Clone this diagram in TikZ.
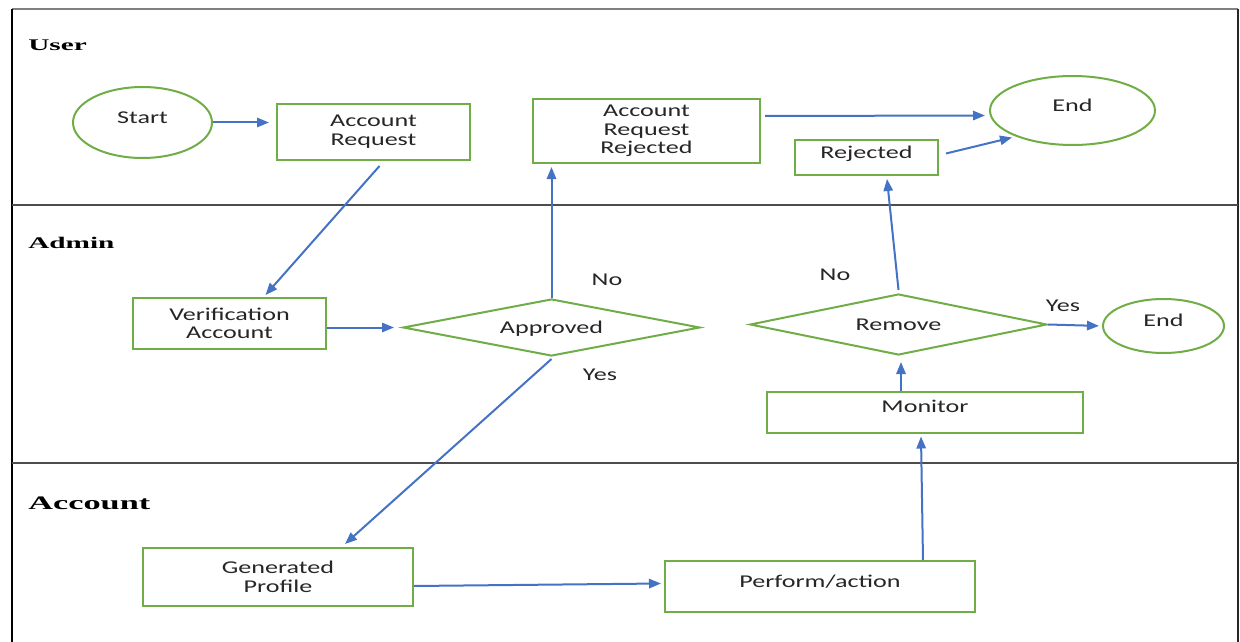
\documentclass[tikz,border=0pt]{standalone}
\usepackage{fontspec}
\setmainfont{Carlito}[FakeStretch=1.45]
\newfontfamily\lanefont{Liberation Serif}[FakeStretch=1.8]
\usetikzlibrary{shapes.geometric,arrows.meta}
\def\PX{0.75pt}
\definecolor{og}{HTML}{70AD47}
\definecolor{ob}{HTML}{4472C4}
\definecolor{tx}{HTML}{262626}
\newcommand\mainfnt{\fontsize{13.5}{14}\selectfont}
\tikzset{
  shp/.style={draw=og, line width=1.5pt, fill=white, inner sep=0pt, align=center, font=\mainfnt, text=tx},
  box/.style={shp, rectangle},
  oval/.style={shp, ellipse},
  dia/.style={shp, diamond, text height=8.7pt, text depth=0pt},
  one/.style={text height=8.7pt, text depth=7.5pt},
  arr/.style={draw=ob, line width=1.5pt, -{Triangle[length=9pt,width=7pt]}},
  lbl/.style={font=\mainfnt, text=tx, text height=8.7pt, text depth=0pt, inner sep=0pt},
  lane/.style={font=\lanefont\bfseries, text=black, anchor=base west, inner sep=0pt}
}
\begin{document}
\begin{tikzpicture}[x=0.75pt,y=-0.75pt]
\useasboundingbox (0,0) rectangle (1240,642);
% frame and lanes
\draw[line width=1.1pt, draw=black!50] (12,9) -- (1238,9);
\draw[line width=1.4pt, black] (12,9) -- (12,642);
\draw[line width=1.4pt, black!85] (1238,9) -- (1238,642);
\draw[line width=0.9pt, black!70] (12,205) -- (1238,205);
\draw[line width=0.9pt, black!70] (12,463) -- (1238,463);
% lane labels
\node[lane, font=\lanefont\bfseries\fontsize{12.2}{13}\selectfont] (luser) at (28,51) {User};
\node[lane, font=\lanefont\bfseries\fontsize{12.2}{13}\selectfont] (ladmin) at (28,248) {Admin};
\node[lane, font=\lanefont\bfseries\fontsize{14.3}{15}\selectfont] (lacc) at (28,509) {Account};
% nodes
\node[oval, one, minimum width=139*\PX, minimum height=71*\PX] (start) at (142.5,122.5) {Start};
\node[box, minimum width=193*\PX, minimum height=56*\PX] (ar) at (373.5,132) {Account\\Request};
\node[box, minimum width=227*\PX, minimum height=64*\PX] (arr) at (646.5,131) {Account\\Request\\Rejected};
\node[oval, one, minimum width=165*\PX, minimum height=69*\PX] (end1) at (1072.5,110.5) {End};
\node[box, one, minimum width=143*\PX, minimum height=35*\PX] (rej) at (866.5,157.5) {Rejected};
\node[box, minimum width=193*\PX, minimum height=51*\PX] (va) at (229.5,323.5) {Verification\\Account};
\node[dia, aspect=5.2, minimum width=297*\PX, minimum height=57*\PX] (ap) at (551.5,327.5) {Approved};
\node[dia, aspect=4.87, minimum width=297*\PX, minimum height=61*\PX] (rm) at (898.5,324.5) {Remove};
\node[oval, one, minimum width=121*\PX, minimum height=54*\PX] (end2) at (1163.5,326) {End};
\node[box, one, minimum width=316*\PX, minimum height=41*\PX] (mo) at (925,412) {Monitor};
\node[box, minimum width=270*\PX, minimum height=58*\PX] (gp) at (278,577) {Generated\\Profile};
\node[box, one, minimum width=310*\PX, minimum height=51*\PX] (pa) at (820,586.5) {Perform/action};
% labels
\node[lbl] (no1) at (607,280) {No};
\node[lbl] (yes1) at (600,375) {Yes};
\node[lbl] (no2) at (835,275) {No};
\node[lbl] (yes2) at (1063,306) {Yes};
% connectors
\draw[arr, shorten >=7*\PX] (start.east) -- (start.east -| ar.west);
\draw[arr] ([shift={(6,5)}]ar.south) -- ([shift={(36,-2)}]va.north);
\draw[arr, shorten >=8*\PX] (va.east |- ap.west) -- (ap.west);
\draw[arr, shorten >=3*\PX] (ap.north) -- (ap.north |- arr.south);
\draw[arr] ([shift={(4,-15)}]arr.east) -- ([shift={(-4,5)}]end1.west);
\draw[arr] ([shift={(7,-4)}]rej.east) -- ([shift={(23,27)}]end1.west);
\draw[arr] ([shift={(0,2)}]ap.south) -- ([shift={(67,-3)}]gp.north);
\draw[arr] ([shift={(0,9)}]gp.east) -- ([shift={(-3,-3)}]pa.west);
\draw[arr] ([shift={(103,0)}]pa.north) -- ([shift={(-4,3)}]mo.south);
\draw[arr] ([shift={(-24,0)}]mo.north) -- ([shift={(2.5,6)}]rm.south);
\draw[arr] ([shift={(0,-3)}]rm.north) -- ([shift={(20.5,3)}]rej.south);
\draw[arr, shorten >=3*\PX] (rm.east) -- (end2.west);
\end{tikzpicture}
\end{document}
